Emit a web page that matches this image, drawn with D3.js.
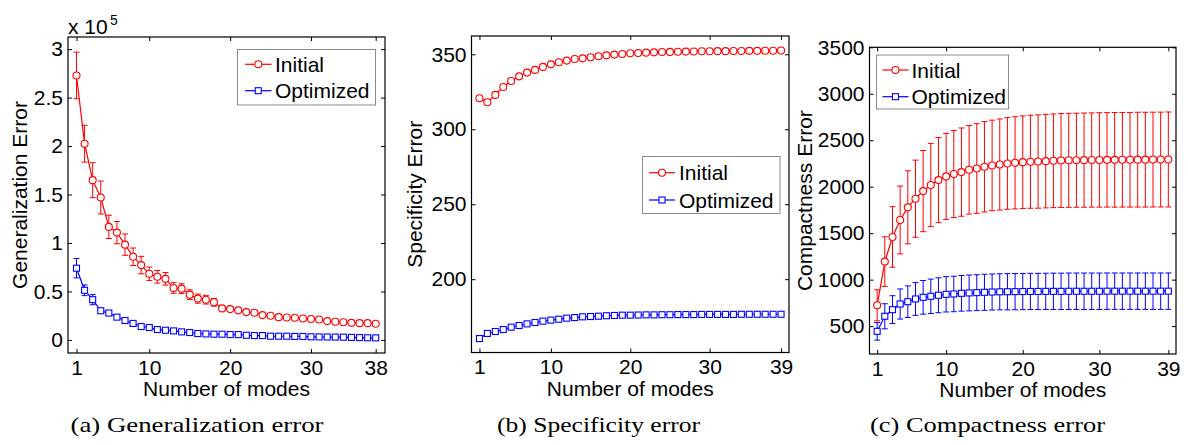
<!DOCTYPE html>
<html>
<head>
<meta charset="utf-8">
<script src="https://cdn.jsdelivr.net/npm/d3@7"></script>
<style>
  body { margin: 0; background: #fff; }
  svg { display: block; }
</style>
</head>
<body>
<svg id="fig" width="1188" height="445"></svg>
<script>
// ---------- data ----------
const modes38 = [1,2,3,4,5,6,7,8,9,10,11,12,13,14,15,16,17,18,19,20,21,22,23,24,25,26,27,28,29,30,31,32,33,34,35,36,37,38];
const modes39 = [1,2,3,4,5,6,7,8,9,10,11,12,13,14,15,16,17,18,19,20,21,22,23,24,25,26,27,28,29,30,31,32,33,34,35,36,37,38,39];

const seriesNames = ["Initial", "Optimized"];

// (a) generalization error
const genInitial = [272800, 202400, 164800, 146900, 116600, 110700, 98300, 85800, 77200, 68200,
  65100, 63000, 53600, 52900, 46700, 42600, 41500, 38800, 32500, 31800,
  30500, 28700, 28000, 25600, 24900, 23500, 23200, 22800, 22100, 21500,
  21100, 19400, 18700, 18300, 17600, 17300, 17300, 16600];
const genInitialErr = [24000, 19000, 18000, 17000, 12000, 11500, 11000, 9000, 9000, 7000,
  6500, 6500, 5500, 5000, 5000, 4700, 4500, 4000, null, null,
  null, null, null, null, null, null, null, null, null, null,
  null, null, null, null, null, null, null, null];
const genOptimized = [74000, 51200, 41500, 30100, 27700, 23500, 20000, 17000, 13800, 12800,
  10700, 10000, 9300, 8300, 7600, 6600, 6200, 5900, 5900, 5500,
  5500, 4800, 4500, 4500, 3800, 3800, 3800, 3600, 3600, 3200,
  3100, 3000, 2900, 2800, 2600, 2400, 2200, 2100];
const genOptimizedErr = [10000, 5500, 5200, null, null, null, null, null, null, null,
  null, null, null, null, null, null, null, null, null, null,
  null, null, null, null, null, null, null, null, null, null,
  null, null, null, null, null, null, null, null];

// (b) specificity error
const specInitial = [320.7, 318.0, 322.9, 328.2, 332.2, 335.3, 337.8, 339.6, 341.6, 343.3,
  344.7, 345.8, 346.9, 347.3, 348.0, 348.7, 349.3, 349.8, 350.2, 350.7,
  350.9, 351.1, 351.3, 351.5, 351.6, 351.7, 351.8, 351.9, 352.0, 352.0,
  352.1, 352.1, 352.2, 352.2, 352.3, 352.3, 352.4, 352.4, 352.5];
const specOptimized = [160.4, 163.8, 165.1, 166.4, 168.0, 169.1, 170.2, 171.1, 172.0, 172.7,
  173.3, 174.0, 174.4, 174.9, 175.1, 175.3, 175.6, 175.8, 176.0, 176.0,
  176.1, 176.2, 176.2, 176.3, 176.3, 176.4, 176.4, 176.4, 176.5, 176.5,
  176.5, 176.5, 176.5, 176.6, 176.6, 176.6, 176.6, 176.6, 176.6];

// (c) compactness error
const compInitial = [724, 1194, 1459, 1642, 1778, 1871, 1953, 2018, 2071, 2111,
  2136, 2157, 2182, 2196, 2214, 2229, 2239, 2250, 2257, 2264,
  2268, 2271, 2275, 2279, 2282, 2284, 2285, 2286, 2287, 2288,
  2289, 2289, 2290, 2290, 2291, 2291, 2292, 2292, 2293];
const compInitialErr = [167, 267, 326, 365, 393, 415, 437, 448, 458, 463,
  468, 475, 477, 482, 486, 487, 490, 493, 496, 498,
  500, 502, 503, 504, 505, 506, 506, 507, 507, 508,
  508, 509, 509, 509, 510, 510, 510, 510, 511];
const compOptimized = [444, 606, 677, 738, 763, 792, 810, 821, 832, 842,
  846, 853, 857, 860, 864, 867, 869, 870, 871, 872,
  873, 873, 874, 874, 874, 875, 875, 875, 875, 875,
  876, 876, 876, 876, 876, 876, 876, 876, 876];
const compOptimizedErr = [95, 135, 150, 162, 170, 176, 181, 185, 188, 190,
  191, 192, 193, 193, 194, 194, 194, 195, 195, 195,
  195, 195, 195, 196, 196, 196, 196, 196, 196, 196,
  196, 196, 196, 196, 196, 196, 196, 196, 196];

// tick values and labels
const genXTicks = [1, 10, 20, 30, 38];
const genYTicks = [0, 50000, 100000, 150000, 200000, 250000, 300000];
const genYTickLabels = ["0", "0.5", "1", "1.5", "2", "2.5", "3"];
const specXTicks = [1, 10, 20, 30, 39];
const specYTicks = [200, 250, 300, 350];
const compXTicks = [1, 10, 20, 30, 39];
const compYTicks = [500, 1000, 1500, 2000, 2500, 3000, 3500];

const xTitle = "Number of modes";
const captions = ["(a) Generalization error", "(b) Specificity error", "(c) Compactness error"];

// ---------- drawing ----------
const RED = "#ff0000", BLUE = "#0000ff";
const FS = 21;
const SANS = "'Liberation Sans', Arial, Helvetica, sans-serif";
const SERIF = "'Liberation Serif', 'Times New Roman', serif";
const svg = d3.select("#fig");
svg.append("rect").attr("width", 1188).attr("height", 445).attr("fill", "#fff");

function sansText(sel, size) {
  return sel.style("font-family", SANS).style("font-size", size + "px").attr("fill", "#000");
}

function drawMarker(g, kind, cx, cy, color) {
  if (kind === "circle") {
    g.append("circle").attr("cx", cx).attr("cy", cy).attr("r", 3.5)
      .attr("fill", "#fff").attr("stroke", color).attr("stroke-width", 1.1);
  } else {
    g.append("rect").attr("x", cx - 3).attr("y", cy - 3).attr("width", 6).attr("height", 6)
      .attr("fill", "#fff").attr("stroke", color).attr("stroke-width", 1.1);
  }
}

function drawPanel(p) {
  const g = svg.append("g");
  const x = d3.scaleLinear().domain(p.xDomain).range([p.left, p.right]);
  const y = d3.scaleLinear().domain(p.yDomain).range([p.bottom, p.top]);

  // series: error bars, line, markers
  p.series.forEach(s => {
    const sg = g.append("g");
    s.values.forEach((v, i) => {
      const e = s.errs ? s.errs[i] : null;
      if (e == null) return;
      const cx = x(p.modes[i]);
      const y0 = y(v - e), y1 = y(v + e);
      sg.append("line").attr("x1", cx).attr("x2", cx).attr("y1", y0).attr("y2", y1)
        .attr("stroke", s.color).attr("stroke-width", 1);
      [y0, y1].forEach(yy => sg.append("line").attr("x1", cx - 3).attr("x2", cx + 3)
        .attr("y1", yy).attr("y2", yy).attr("stroke", s.color).attr("stroke-width", 1));
    });
    const line = d3.line().x((d, i) => x(p.modes[i])).y(d => y(d));
    sg.append("path").datum(s.values).attr("d", line).attr("fill", "none")
      .attr("stroke", s.color).attr("stroke-width", 1.2);
    s.values.forEach((v, i) => drawMarker(sg, s.marker, x(p.modes[i]), y(v), s.color));
  });

  // axes with inward ticks on all four sides
  const styleAxis = a => {
    a.select(".domain").remove();
    a.attr("font-family", null).attr("font-size", null);
    a.selectAll("line").attr("stroke", "#000").attr("stroke-width", 1);
    sansText(a.selectAll("text"), FS);
  };
  g.append("g").attr("transform", `translate(0,${p.bottom})`)
    .call(d3.axisBottom(x).tickValues(p.xTicks).tickSize(-4).tickPadding(7).tickFormat(d3.format("d")))
    .call(styleAxis);
  g.append("g").attr("transform", `translate(0,${p.top})`)
    .call(d3.axisTop(x).tickValues(p.xTicks).tickSize(-4).tickFormat(() => ""))
    .call(styleAxis);
  g.append("g").attr("transform", `translate(${p.left},0)`)
    .call(d3.axisLeft(y).tickValues(p.yTicks).tickSize(-4).tickPadding(5)
      .tickFormat((d, i) => p.yLabels ? p.yLabels[i] : d3.format("d")(d)))
    .call(styleAxis);
  g.append("g").attr("transform", `translate(${p.right},0)`)
    .call(d3.axisRight(y).tickValues(p.yTicks).tickSize(-4).tickFormat(() => ""))
    .call(styleAxis);
  g.append("rect").attr("x", p.left).attr("y", p.top)
    .attr("width", p.right - p.left).attr("height", p.bottom - p.top)
    .attr("fill", "none").attr("stroke", "#000").attr("stroke-width", 1.2);

  // axis titles
  sansText(g.append("text"), FS)
    .attr("x", (p.left + p.right) / 2).attr("y", p.xTitleY).attr("text-anchor", "middle")
    .text(xTitle);
  sansText(g.append("text"), FS)
    .attr("transform", `translate(${p.yTitleX},${(p.top + p.bottom) / 2}) rotate(-90)`)
    .attr("text-anchor", "middle").text(p.yTitle);

  // legend
  const L = p.legend;
  g.append("rect").attr("x", L.x0).attr("y", L.y0).attr("width", L.x1 - L.x0).attr("height", L.y1 - L.y0)
    .attr("fill", "#fff").attr("stroke", "#8a8a8a").attr("stroke-width", 1);
  p.series.forEach((s, i) => {
    const ry = L.rows[i];
    g.append("line").attr("x1", L.lx0).attr("x2", L.lx1).attr("y1", ry).attr("y2", ry)
      .attr("stroke", s.color).attr("stroke-width", 1.2);
    drawMarker(g, s.marker, (L.lx0 + L.lx1) / 2, ry, s.color);
    sansText(g.append("text"), FS).attr("x", L.tx).attr("y", ry + 7.5).text(s.name);
  });

  // caption
  svg.append("text").style("font-family", SERIF).style("font-size", "22px")
    .attr("x", p.capX).attr("y", 432).attr("textLength", p.capW)
    .attr("lengthAdjust", "spacingAndGlyphs").text(p.caption);
  return { x, y, g };
}

const pa = drawPanel({
  left: 68, right: 385, top: 37, bottom: 353,
  xDomain: [-0.05, 39.15], yDomain: [-13500, 312500],
  modes: modes38, xTicks: genXTicks, yTicks: genYTicks, yLabels: genYTickLabels,
  yTitle: "Generalization Error", yTitleX: 26.5, xTitleY: 396,
  series: [
    { name: seriesNames[0], values: genInitial, errs: genInitialErr, color: RED, marker: "circle" },
    { name: seriesNames[1], values: genOptimized, errs: genOptimizedErr, color: BLUE, marker: "square" }
  ],
  legend: { x0: 237.5, y0: 49.5, x1: 375.5, y1: 105, rows: [64.3, 90.7], lx0: 245, lx1: 271.5, tx: 275 },
  caption: captions[0], capX: 70.5, capW: 253
});
// exponent for the y axis of (a)
sansText(pa.g.append("text"), FS).attr("x", 68).attr("y", 34).text("x 10");
sansText(pa.g.append("text"), 14).attr("x", 110).attr("y", 25).text("5");

drawPanel({
  left: 471.5, right: 789, top: 36, bottom: 352.5,
  xDomain: [0, 40], yDomain: [151.1, 362.2],
  modes: modes39, xTicks: specXTicks, yTicks: specYTicks,
  yTitle: "Specificity Error", yTitleX: 421.5, xTitleY: 396,
  series: [
    { name: seriesNames[0], values: specInitial, errs: null, color: RED, marker: "circle" },
    { name: seriesNames[1], values: specOptimized, errs: null, color: BLUE, marker: "square" }
  ],
  legend: { x0: 642.5, y0: 156.5, x1: 780, y1: 213.5, rows: [172.7, 200], lx0: 649, lx1: 675, tx: 679 },
  caption: captions[1], capX: 497, capW: 203
});

drawPanel({
  left: 869.5, right: 1176, top: 47.3, bottom: 354,
  xDomain: [0, 40], yDomain: [200, 3500],
  modes: modes39, xTicks: compXTicks, yTicks: compYTicks,
  yTitle: "Compactness Error", yTitleX: 811.5, xTitleY: 397,
  series: [
    { name: seriesNames[0], values: compInitial, errs: compInitialErr, color: RED, marker: "circle" },
    { name: seriesNames[1], values: compOptimized, errs: compOptimizedErr, color: BLUE, marker: "square" }
  ],
  legend: { x0: 876.5, y0: 55, x1: 1008.5, y1: 109, rows: [70, 96.7], lx0: 882.5, lx1: 908.5, tx: 911.5 },
  caption: captions[2], capX: 870, capW: 235
});
</script>
</body>
</html>
